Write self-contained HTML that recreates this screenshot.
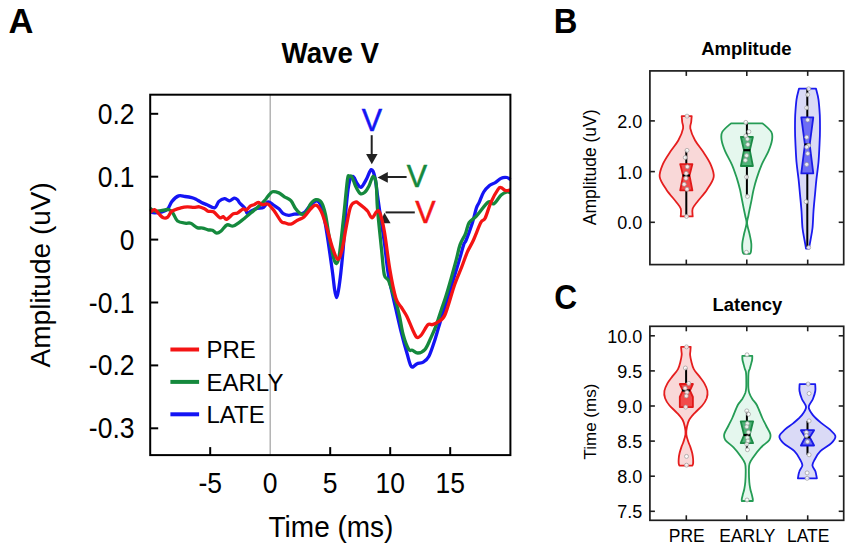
<!DOCTYPE html>
<html><head><meta charset="utf-8"><style>
html,body{margin:0;padding:0;background:#fff;}
svg{display:block;}
text{font-family:"Liberation Sans", sans-serif;}
</style></head><body>
<svg width="851" height="549" viewBox="0 0 851 549">
<rect width="851" height="549" fill="#fff"/>
<text x="8.6" y="33.1" font-size="34.5" text-anchor="start" font-weight="bold" fill="#000" transform="translate(8.6 0) scale(1 1) translate(-8.6 0)">A</text>
<text x="330.3" y="62.8" font-size="29.5" text-anchor="middle" font-weight="bold" fill="#000" transform="translate(330.3 0) scale(0.94 1) translate(-330.3 0)">Wave V</text>
<line x1="270.2" y1="94.7" x2="270.2" y2="455.1" stroke="#a8a8a8" stroke-width="1.3"/>
<line x1="170.4" y1="349.5" x2="199.1" y2="349.5" stroke="#f41414" stroke-width="4"/>
<text x="206.5" y="358.4" font-size="24.0" text-anchor="start" font-weight="normal" fill="#000" >PRE</text>
<line x1="170.4" y1="381.9" x2="199.1" y2="381.9" stroke="#15893d" stroke-width="4"/>
<text x="206.5" y="390.8" font-size="24.0" text-anchor="start" font-weight="normal" fill="#000" >EARLY</text>
<line x1="170.4" y1="414.3" x2="199.1" y2="414.3" stroke="#1414f4" stroke-width="4"/>
<text x="206.5" y="423.2" font-size="24.0" text-anchor="start" font-weight="normal" fill="#000" >LATE</text>
<line x1="371.7" y1="135.2" x2="371.7" y2="155" stroke="#222222" stroke-width="2"/>
<polygon points="366.1,154.1 377.6,154.1 371.8,164.3" fill="#222222"/>
<line x1="387" y1="177" x2="406.6" y2="177" stroke="#222222" stroke-width="2"/>
<polygon points="377.6,177.4 387.8,172.1 387.8,182.8" fill="#222222"/>
<line x1="385.6" y1="212.4" x2="414.8" y2="212.4" stroke="#222222" stroke-width="2"/>
<polygon points="384.4,212.8 379.9,223.3 390.6,223.3" fill="#222222"/>
<path d="M150.2,211.8 C150.9,212.0 152.6,212.8 154.6,212.8 C156.6,212.8 160.0,212.4 162.2,211.8 C164.4,211.2 166.1,210.7 167.7,209.0 C169.3,207.3 170.2,203.6 172.0,201.4 C173.8,199.2 176.4,196.7 178.6,195.9 C180.8,195.1 182.9,196.2 185.1,196.5 C187.3,196.8 189.9,197.2 191.7,197.6 C193.5,198.0 194.4,198.4 196.0,199.2 C197.6,200.0 199.7,201.6 201.5,202.5 C203.3,203.4 204.8,203.8 207.0,204.7 C209.2,205.6 212.6,208.4 214.6,207.9 C216.6,207.4 217.3,202.9 218.9,201.4 C220.5,199.9 222.6,198.8 224.4,198.7 C226.2,198.6 228.2,200.9 229.8,200.8 C231.4,200.7 232.9,198.3 234.2,198.1 C235.5,197.9 236.6,198.9 237.5,199.7 C238.4,200.5 238.4,201.5 239.7,203.0 C241.0,204.5 243.8,206.8 245.1,208.5 C246.4,210.2 246.2,213.0 247.3,213.4 C248.4,213.8 250.1,211.5 251.7,210.7 C253.3,209.9 255.1,209.1 257.1,208.5 C259.1,207.9 261.9,208.5 263.7,207.4 C265.5,206.3 266.5,202.3 268.1,201.9 C269.7,201.5 271.7,203.8 273.5,205.0 C275.3,206.2 277.3,207.4 278.9,208.8 C280.5,210.2 281.6,212.6 283.3,213.7 C285.0,214.8 287.0,215.2 288.8,215.3 C290.6,215.4 292.2,214.5 294.2,214.2 C296.2,213.9 299.0,214.1 300.8,213.7 C302.6,213.3 303.4,213.4 305.0,212.0 C306.6,210.6 308.7,206.9 310.5,205.1 C312.3,203.3 314.3,201.2 315.9,201.0 C317.5,200.8 318.6,201.1 320.0,203.8 C321.4,206.5 322.7,211.0 324.1,217.4 C325.5,223.8 326.9,233.2 328.2,242.0 C329.5,250.8 331.1,262.1 332.2,270.0 C333.3,277.9 333.9,284.9 334.6,289.5 C335.3,294.1 335.9,297.6 336.6,297.6 C337.3,297.6 337.9,293.6 338.6,289.5 C339.3,285.4 340.0,280.0 340.8,273.0 C341.6,266.0 342.4,258.1 343.3,247.5 C344.2,236.9 345.1,219.7 346.0,209.2 C346.9,198.7 347.7,190.1 348.8,184.6 C349.9,179.1 351.5,176.6 352.9,176.4 C354.3,176.2 355.6,181.4 357.0,183.2 C358.4,185.0 359.5,188.0 361.1,187.3 C362.7,186.6 364.8,182.1 366.5,179.1 C368.2,176.1 369.8,170.0 371.2,169.6 C372.6,169.2 373.6,172.1 374.7,176.4 C375.8,180.7 376.6,189.1 377.5,195.5 C378.4,201.9 379.1,206.8 380.2,214.6 C381.3,222.3 382.9,232.0 384.3,242.0 C385.7,252.0 386.5,263.6 388.4,274.8 C390.3,286.0 393.7,299.5 395.9,309.2 C398.1,318.9 399.6,325.6 401.4,332.9 C403.2,340.2 405.2,347.4 406.9,353.0 C408.6,358.6 409.7,364.8 411.4,366.6 C413.1,368.4 414.9,364.6 416.9,363.9 C418.9,363.1 421.3,363.3 423.3,362.1 C425.3,360.9 427.0,360.0 428.8,356.6 C430.6,353.2 432.4,347.5 434.2,342.0 C436.0,336.5 437.5,330.9 439.7,323.8 C441.9,316.7 444.8,307.3 447.3,299.3 C449.8,291.3 452.5,282.6 454.6,275.6 C456.7,268.6 458.6,262.6 460.1,257.4 C461.6,252.2 462.7,247.5 463.7,244.6 C464.7,241.7 464.8,243.4 466.2,240.0 C467.6,236.6 470.3,229.4 472.0,224.1 C473.7,218.8 475.2,211.8 476.4,208.1 C477.6,204.4 478.1,204.9 479.3,202.2 C480.5,199.5 482.0,194.8 483.7,192.0 C485.4,189.2 487.6,187.1 489.5,185.5 C491.4,183.9 493.4,183.8 495.3,182.6 C497.2,181.4 499.2,179.0 501.2,178.2 C503.1,177.3 505.4,177.2 507.0,177.5 C508.6,177.8 509.9,179.3 510.5,179.7" fill="none" stroke="#1414f4" stroke-width="3.3" stroke-linejoin="round" stroke-linecap="butt"/>
<path d="M150.2,208.5 C150.9,208.9 152.8,210.8 154.6,211.2 C156.4,211.6 158.7,211.0 161.1,210.7 C163.5,210.4 166.8,209.1 168.8,209.6 C170.8,210.1 171.7,211.5 173.1,213.4 C174.5,215.3 175.5,219.4 177.5,221.0 C179.5,222.6 182.9,222.8 185.1,223.2 C187.3,223.6 188.6,222.5 190.6,223.2 C192.6,223.9 195.1,226.8 197.1,227.6 C199.1,228.4 200.8,227.7 202.6,228.1 C204.4,228.5 206.4,229.4 208.0,229.8 C209.6,230.2 211.0,229.8 212.4,230.3 C213.8,230.9 215.2,233.0 216.7,233.1 C218.1,233.2 219.4,232.3 221.1,230.9 C222.8,229.5 225.1,225.7 227.1,224.9 C229.1,224.1 231.0,226.5 233.1,226.0 C235.2,225.5 237.7,223.5 239.7,222.1 C241.7,220.7 243.1,219.4 245.1,217.8 C247.1,216.2 249.5,214.1 251.7,212.3 C253.9,210.5 256.0,208.8 258.2,206.8 C260.4,204.8 263.2,202.1 264.8,200.3 C266.4,198.5 266.7,197.6 268.0,196.2 C269.3,194.8 270.6,192.4 272.4,191.8 C274.2,191.2 276.9,192.1 278.9,192.9 C280.9,193.7 282.4,195.5 284.4,196.8 C286.4,198.1 289.1,198.7 290.9,200.6 C292.7,202.5 293.8,206.1 295.3,208.2 C296.8,210.3 298.4,212.1 299.7,213.1 C301.0,214.1 301.8,214.7 303.0,214.3 C304.2,214.0 305.8,212.7 307.0,211.0 C308.2,209.3 309.0,205.9 310.5,204.0 C312.0,202.1 314.1,200.0 315.9,199.7 C317.7,199.4 319.8,199.9 321.4,202.4 C323.0,204.9 324.1,208.4 325.5,214.6 C326.9,220.8 328.2,232.0 329.6,239.3 C331.0,246.6 332.6,254.4 333.7,258.4 C334.8,262.4 335.6,263.8 336.5,263.4 C337.4,262.9 338.1,262.9 339.2,255.7 C340.3,248.5 341.9,232.8 343.3,220.2 C344.7,207.6 346.4,187.3 347.4,180.0 C348.4,172.7 348.7,177.0 349.5,176.5 C350.3,176.0 351.0,175.4 352.0,177.0 C353.0,178.6 354.2,183.3 355.5,186.0 C356.8,188.7 358.5,192.2 360.0,193.3 C361.5,194.4 363.0,193.7 364.5,192.5 C366.0,191.3 367.6,188.7 369.0,186.0 C370.4,183.3 371.9,176.7 373.1,176.4 C374.3,176.1 375.5,178.5 376.2,184.0 C376.9,189.5 376.6,198.2 377.5,209.2 C378.4,220.2 380.5,239.3 381.6,250.2 C382.7,261.1 383.2,269.8 384.3,274.8 C385.4,279.8 387.0,277.3 388.4,280.2 C389.8,283.1 391.2,288.4 392.5,292.0 C393.8,295.6 394.7,297.8 395.9,301.9 C397.1,306.0 398.4,311.0 399.6,316.5 C400.8,322.0 401.7,329.2 403.2,334.7 C404.7,340.2 407.2,346.7 408.7,349.3 C410.2,351.9 410.9,349.6 412.4,350.2 C413.9,350.8 415.7,353.1 417.8,353.0 C419.9,352.9 423.0,351.7 425.1,349.3 C427.2,346.9 428.8,342.3 430.6,338.4 C432.4,334.4 434.3,330.5 436.1,325.6 C437.9,320.7 439.9,313.9 441.5,309.2 C443.1,304.5 443.9,302.5 445.5,297.5 C447.1,292.5 449.1,285.6 450.9,279.2 C452.7,272.8 454.9,265.0 456.4,259.2 C457.9,253.4 458.6,248.9 460.1,244.6 C461.6,240.3 464.0,237.3 465.5,233.6 C467.0,229.9 467.3,225.5 469.1,222.6 C470.9,219.7 473.2,219.5 476.4,216.1 C479.6,212.7 485.2,204.3 488.1,202.2 C491.0,200.1 491.7,204.9 493.9,203.7 C496.1,202.5 499.0,196.9 501.2,195.0 C503.4,193.1 505.4,192.4 507.0,192.0 C508.6,191.6 509.9,192.7 510.5,192.8" fill="none" stroke="#15893d" stroke-width="3.3" stroke-linejoin="round" stroke-linecap="butt"/>
<path d="M150.2,212.3 C150.9,211.9 153.1,209.3 154.6,209.6 C156.1,209.9 157.4,212.5 158.9,213.9 C160.4,215.3 161.8,217.2 163.3,217.8 C164.8,218.4 166.2,218.3 167.7,217.2 C169.1,216.1 169.8,212.8 172.0,211.2 C174.2,209.6 178.2,208.6 180.8,207.9 C183.4,207.2 185.1,206.9 187.3,206.8 C189.5,206.7 191.9,207.4 193.9,207.4 C195.9,207.4 197.5,206.5 199.3,206.8 C201.1,207.1 203.4,208.3 204.8,209.0 C206.2,209.7 206.6,210.7 208.0,211.2 C209.4,211.7 211.5,210.7 213.5,211.8 C215.5,212.9 218.4,217.0 220.0,217.8 C221.6,218.6 222.2,216.4 223.3,216.7 C224.4,217.0 225.0,219.9 226.6,219.4 C228.2,218.9 231.3,215.0 233.1,213.9 C234.9,212.8 235.8,213.7 237.5,212.9 C239.2,212.1 241.6,209.5 243.0,209.0 C244.4,208.5 244.9,210.6 246.2,210.1 C247.5,209.6 249.3,206.7 250.6,205.8 C251.9,204.9 252.6,205.2 253.9,204.7 C255.2,204.1 256.8,202.5 258.2,202.5 C259.6,202.5 261.0,204.4 262.6,204.7 C264.2,205.0 266.1,203.0 268.1,204.1 C270.1,205.2 272.4,208.6 274.6,211.5 C276.8,214.4 279.3,219.4 281.1,221.3 C282.9,223.2 283.9,222.5 285.5,223.0 C287.1,223.5 288.9,224.6 290.9,224.1 C292.9,223.6 295.3,221.4 297.5,220.2 C299.7,219.0 301.8,218.8 304.0,217.0 C306.2,215.2 308.5,211.2 310.5,209.2 C312.5,207.2 314.1,204.6 315.9,205.1 C317.7,205.6 319.6,208.0 321.4,211.9 C323.2,215.8 325.1,222.4 326.9,228.3 C328.7,234.2 330.6,242.3 332.4,247.5 C334.2,252.7 336.2,258.9 337.8,259.4 C339.4,259.8 340.5,255.4 341.9,250.2 C343.3,245.0 344.6,235.5 346.0,228.3 C347.4,221.1 348.9,211.4 350.5,207.0 C352.1,202.6 354.3,202.6 355.7,202.0 C357.1,201.4 357.4,202.7 358.9,203.7 C360.3,204.7 362.9,206.8 364.4,208.1 C365.9,209.4 366.4,209.7 367.7,211.3 C369.0,212.9 370.6,217.8 372.0,217.9 C373.4,218.0 375.1,212.8 376.4,211.9 C377.7,211.0 378.4,209.2 379.7,212.4 C381.0,215.6 382.6,221.6 384.3,231.1 C386.0,240.6 387.9,258.1 389.8,269.3 C391.7,280.5 394.0,291.9 395.9,298.2 C397.8,304.5 399.6,304.3 401.4,307.4 C403.2,310.4 405.1,312.9 406.9,316.5 C408.7,320.1 410.7,325.7 412.4,329.2 C414.1,332.7 415.4,336.5 416.9,337.4 C418.4,338.3 419.7,336.8 421.5,334.7 C423.3,332.6 426.1,326.4 427.9,324.7 C429.7,323.0 430.7,325.1 432.4,324.7 C434.1,324.2 435.8,323.7 437.9,322.0 C440.0,320.3 442.2,320.9 445.0,314.7 C447.8,308.5 451.8,292.7 454.6,284.7 C457.4,276.7 459.8,272.0 461.9,266.5 C464.0,261.0 465.5,256.3 467.4,251.9 C469.3,247.5 471.3,244.9 473.5,240.0 C475.7,235.1 478.9,226.2 480.8,222.6 C482.7,219.0 483.4,221.6 485.1,218.2 C486.8,214.8 488.8,207.0 491.0,202.2 C493.2,197.3 496.5,191.5 498.2,189.1 C499.9,186.7 500.0,187.4 501.2,187.7 C502.4,187.9 503.9,190.2 505.5,190.6 C507.1,191.0 509.7,190.0 510.5,189.9" fill="none" stroke="#f41414" stroke-width="3.3" stroke-linejoin="round" stroke-linecap="butt"/>
<text x="372.0" y="131.3" font-size="30.5" text-anchor="middle" font-weight="normal" fill="#1414f4" stroke="#1414f4" stroke-width="0.5">V</text>
<text x="417.0" y="186.8" font-size="30.5" text-anchor="middle" font-weight="normal" fill="#15893d" stroke="#15893d" stroke-width="0.5">V</text>
<text x="425.5" y="223.2" font-size="30.5" text-anchor="middle" font-weight="normal" fill="#f41414" stroke="#f41414" stroke-width="0.5">V</text>
<rect x="150.2" y="94.7" width="360.2" height="360.4" fill="none" stroke="#000" stroke-width="2"/>
<line x1="150.2" y1="113.8" x2="158.2" y2="113.8" stroke="#000" stroke-width="2"/>
<text x="134.5" y="123.9" font-size="26.5" text-anchor="end" font-weight="normal" fill="#000" transform="translate(0 123.9) scale(1 1.08) translate(0 -123.9)">0.2</text>
<line x1="150.2" y1="176.7" x2="158.2" y2="176.7" stroke="#000" stroke-width="2"/>
<text x="134.5" y="186.8" font-size="26.5" text-anchor="end" font-weight="normal" fill="#000" transform="translate(0 186.8) scale(1 1.08) translate(0 -186.8)">0.1</text>
<line x1="150.2" y1="239.6" x2="158.2" y2="239.6" stroke="#000" stroke-width="2"/>
<text x="134.5" y="249.7" font-size="26.5" text-anchor="end" font-weight="normal" fill="#000" transform="translate(0 249.7) scale(1 1.08) translate(0 -249.7)">0</text>
<line x1="150.2" y1="302.5" x2="158.2" y2="302.5" stroke="#000" stroke-width="2"/>
<text x="134.5" y="312.6" font-size="26.5" text-anchor="end" font-weight="normal" fill="#000" transform="translate(0 312.6) scale(1 1.08) translate(0 -312.6)">-0.1</text>
<line x1="150.2" y1="365.4" x2="158.2" y2="365.4" stroke="#000" stroke-width="2"/>
<text x="134.5" y="375.5" font-size="26.5" text-anchor="end" font-weight="normal" fill="#000" transform="translate(0 375.5) scale(1 1.08) translate(0 -375.5)">-0.2</text>
<line x1="150.2" y1="428.3" x2="158.2" y2="428.3" stroke="#000" stroke-width="2"/>
<text x="134.5" y="438.4" font-size="26.5" text-anchor="end" font-weight="normal" fill="#000" transform="translate(0 438.4) scale(1 1.08) translate(0 -438.4)">-0.3</text>
<line x1="210.2" y1="455.1" x2="210.2" y2="447.1" stroke="#000" stroke-width="2"/>
<text x="210.2" y="493.0" font-size="26.5" text-anchor="middle" font-weight="normal" fill="#000" transform="translate(0 493) scale(1 1.08) translate(0 -493)">-5</text>
<text x="270.2" y="493.0" font-size="26.5" text-anchor="middle" font-weight="normal" fill="#000" transform="translate(0 493) scale(1 1.08) translate(0 -493)">0</text>
<line x1="330.2" y1="455.1" x2="330.2" y2="447.1" stroke="#000" stroke-width="2"/>
<text x="330.2" y="493.0" font-size="26.5" text-anchor="middle" font-weight="normal" fill="#000" transform="translate(0 493) scale(1 1.08) translate(0 -493)">5</text>
<line x1="390.2" y1="455.1" x2="390.2" y2="447.1" stroke="#000" stroke-width="2"/>
<text x="390.2" y="493.0" font-size="26.5" text-anchor="middle" font-weight="normal" fill="#000" transform="translate(0 493) scale(1 1.08) translate(0 -493)">10</text>
<line x1="450.2" y1="455.1" x2="450.2" y2="447.1" stroke="#000" stroke-width="2"/>
<text x="450.2" y="493.0" font-size="26.5" text-anchor="middle" font-weight="normal" fill="#000" transform="translate(0 493) scale(1 1.08) translate(0 -493)">15</text>
<text x="331.0" y="537.3" font-size="28.0" text-anchor="middle" font-weight="normal" fill="#000" transform="translate(0 537.3) scale(1 1.04) translate(0 -537.3)">Time (ms)</text>
<text x="50.3" y="274.8" font-size="28.0" text-anchor="middle" font-weight="normal" fill="#000" transform="rotate(-90 50.3 274.8)">Amplitude (uV)</text>
<text x="553.8" y="33.5" font-size="34.5" text-anchor="start" font-weight="bold" fill="#000" transform="translate(553.8 0) scale(0.95 1) translate(-553.8 0)">B</text>
<text x="746.4" y="55.0" font-size="19.0" text-anchor="middle" font-weight="bold" fill="#000" transform="translate(746.4 0) scale(0.975 1) translate(-746.4 0)">Amplitude</text>
<rect x="649.9" y="70.9" width="193.8" height="193.7" fill="none" stroke="#1e1e1e" stroke-width="1.7"/>
<line x1="686.3" y1="70.9" x2="686.3" y2="75.9" stroke="#1e1e1e" stroke-width="1.6"/>
<line x1="686.3" y1="264.6" x2="686.3" y2="259.6" stroke="#1e1e1e" stroke-width="1.6"/>
<line x1="746.8" y1="70.9" x2="746.8" y2="75.9" stroke="#1e1e1e" stroke-width="1.6"/>
<line x1="746.8" y1="264.6" x2="746.8" y2="259.6" stroke="#1e1e1e" stroke-width="1.6"/>
<line x1="807.7" y1="70.9" x2="807.7" y2="75.9" stroke="#1e1e1e" stroke-width="1.6"/>
<line x1="807.7" y1="264.6" x2="807.7" y2="259.6" stroke="#1e1e1e" stroke-width="1.6"/>
<line x1="649.9" y1="120.9" x2="654.9" y2="120.9" stroke="#1e1e1e" stroke-width="1.6"/>
<line x1="843.7" y1="120.9" x2="838.7" y2="120.9" stroke="#1e1e1e" stroke-width="1.6"/>
<line x1="649.9" y1="171.6" x2="654.9" y2="171.6" stroke="#1e1e1e" stroke-width="1.6"/>
<line x1="843.7" y1="171.6" x2="838.7" y2="171.6" stroke="#1e1e1e" stroke-width="1.6"/>
<line x1="649.9" y1="222.3" x2="654.9" y2="222.3" stroke="#1e1e1e" stroke-width="1.6"/>
<line x1="843.7" y1="222.3" x2="838.7" y2="222.3" stroke="#1e1e1e" stroke-width="1.6"/>
<text x="642.3" y="127.8" font-size="18.0" text-anchor="end" font-weight="normal" fill="#000" >2.0</text>
<text x="642.3" y="178.5" font-size="18.0" text-anchor="end" font-weight="normal" fill="#000" >1.0</text>
<text x="642.3" y="229.2" font-size="18.0" text-anchor="end" font-weight="normal" fill="#000" >0.0</text>
<text x="595.6" y="167.3" font-size="17.5" text-anchor="middle" font-weight="normal" fill="#000" transform="rotate(-90 595.6 167.3)">Amplitude (uV)</text>
<path d="M681.7,116.1 C681.8,117.1 682.0,120.0 682.2,122.0 C682.4,124.0 683.7,125.4 683.1,128.4 C682.5,131.4 680.6,136.3 678.4,140.2 C676.2,144.1 672.7,148.1 670.1,152.0 C667.5,155.9 664.7,159.8 663.0,163.9 C661.3,168.1 659.1,172.6 659.7,176.9 C660.3,181.2 663.9,185.8 666.6,189.9 C669.3,194.0 673.6,198.5 676.0,201.7 C678.4,204.8 680.0,206.4 680.8,208.8 C681.6,211.2 680.7,215.1 680.7,216.4 L692.7,216.4 C692.7,215.1 691.8,211.2 692.6,208.8 C693.4,206.4 695.0,204.8 697.4,201.7 C699.8,198.5 704.1,194.0 706.8,189.9 C709.5,185.8 713.1,181.2 713.7,176.9 C714.3,172.6 712.1,168.1 710.4,163.9 C708.7,159.8 705.9,155.9 703.3,152.0 C700.7,148.1 697.2,144.1 695.0,140.2 C692.8,136.3 690.9,131.4 690.3,128.4 C689.7,125.4 691.0,124.0 691.2,122.0 C691.4,120.0 691.6,117.1 691.7,116.1 Z" fill="#f9d8d8" stroke="#e51e1e" stroke-width="1.8" stroke-linejoin="round"/>
<line x1="686.3" y1="150.4" x2="686.3" y2="216.2" stroke="#000" stroke-width="2"/>
<polygon points="680.2,164.1 692.4,164.1 689.5,175.5 692.4,190.3 680.2,190.3 683.1,175.5" fill="#f24a4a" stroke="#e01818" stroke-width="1.8" stroke-linejoin="round"/>
<line x1="682.6" y1="175.5" x2="690.0" y2="175.5" stroke="#000" stroke-width="2.2"/>
<circle cx="687.0" cy="116.1" r="2" fill="#fff" fill-opacity="0.85" stroke="#9a9a9a" stroke-width="0.7"/>
<circle cx="687.0" cy="150.4" r="2" fill="#fff" fill-opacity="0.85" stroke="#9a9a9a" stroke-width="0.7"/>
<circle cx="685.3" cy="157.5" r="2" fill="#fff" fill-opacity="0.85" stroke="#9a9a9a" stroke-width="0.7"/>
<circle cx="687.3" cy="166.8" r="2" fill="#fff" fill-opacity="0.85" stroke="#9a9a9a" stroke-width="0.7"/>
<circle cx="686.2" cy="173.4" r="2" fill="#fff" fill-opacity="0.85" stroke="#9a9a9a" stroke-width="0.7"/>
<circle cx="685.9" cy="178.3" r="2" fill="#fff" fill-opacity="0.85" stroke="#9a9a9a" stroke-width="0.7"/>
<circle cx="684.2" cy="184.3" r="2" fill="#fff" fill-opacity="0.85" stroke="#9a9a9a" stroke-width="0.7"/>
<circle cx="687.0" cy="189.2" r="2" fill="#fff" fill-opacity="0.85" stroke="#9a9a9a" stroke-width="0.7"/>
<circle cx="686.5" cy="216.4" r="2" fill="#fff" fill-opacity="0.85" stroke="#9a9a9a" stroke-width="0.7"/>
<path d="M731.1,123.3 C729.6,124.7 723.9,129.1 722.3,131.9 C720.7,134.7 721.1,136.9 721.6,140.1 C722.1,143.3 723.4,147.0 725.1,151.1 C726.8,155.2 730.0,160.2 732.0,164.8 C734.0,169.4 735.5,174.2 736.9,178.4 C738.2,182.6 739.1,185.9 740.1,190.0 C741.0,194.1 741.7,198.6 742.6,202.8 C743.4,207.1 744.5,212.1 745.2,215.5 C745.8,218.9 746.7,220.0 746.5,223.2 C746.3,226.4 744.6,231.3 743.9,234.7 C743.2,238.1 742.5,240.8 742.3,243.6 C742.1,246.4 742.3,249.6 742.6,251.3 C742.8,253.0 743.6,253.5 743.8,253.9 L749.8,253.9 C750.0,253.5 750.8,253.0 751.0,251.3 C751.2,249.6 751.5,246.4 751.3,243.6 C751.1,240.8 750.4,238.1 749.7,234.7 C749.0,231.3 747.3,226.4 747.1,223.2 C746.9,220.0 747.8,218.9 748.4,215.5 C749.0,212.1 750.1,207.1 751.0,202.8 C751.9,198.6 752.5,194.1 753.5,190.0 C754.5,185.9 755.3,182.6 756.7,178.4 C758.0,174.2 759.6,169.4 761.6,164.8 C763.6,160.2 766.8,155.2 768.5,151.1 C770.2,147.0 771.5,143.3 772.0,140.1 C772.5,136.9 772.9,134.7 771.3,131.9 C769.7,129.1 764.0,124.7 762.5,123.3 Z" fill="#e5f7ee" stroke="#259c55" stroke-width="1.8" stroke-linejoin="round"/>
<line x1="746.9" y1="122.4" x2="746.9" y2="196.4" stroke="#000" stroke-width="2"/>
<polygon points="740.9,137.0 752.9,137.0 749.8,150.2 752.9,166.0 740.9,166.0 744.0,150.2" fill="#4fb478" stroke="#1b8a45" stroke-width="1.8" stroke-linejoin="round"/>
<line x1="743.5" y1="150.2" x2="750.3" y2="150.2" stroke="#000" stroke-width="2.2"/>
<circle cx="745.8" cy="122.4" r="2" fill="#fff" fill-opacity="0.85" stroke="#9a9a9a" stroke-width="0.7"/>
<circle cx="748.9" cy="131.7" r="2" fill="#fff" fill-opacity="0.85" stroke="#9a9a9a" stroke-width="0.7"/>
<circle cx="745.8" cy="135.9" r="2" fill="#fff" fill-opacity="0.85" stroke="#9a9a9a" stroke-width="0.7"/>
<circle cx="747.4" cy="139.0" r="2" fill="#fff" fill-opacity="0.85" stroke="#9a9a9a" stroke-width="0.7"/>
<circle cx="747.8" cy="144.5" r="2" fill="#fff" fill-opacity="0.85" stroke="#9a9a9a" stroke-width="0.7"/>
<circle cx="746.6" cy="155.6" r="2" fill="#fff" fill-opacity="0.85" stroke="#9a9a9a" stroke-width="0.7"/>
<circle cx="745.4" cy="160.3" r="2" fill="#fff" fill-opacity="0.85" stroke="#9a9a9a" stroke-width="0.7"/>
<circle cx="746.6" cy="177.0" r="2" fill="#fff" fill-opacity="0.85" stroke="#9a9a9a" stroke-width="0.7"/>
<circle cx="747.4" cy="196.4" r="2" fill="#fff" fill-opacity="0.85" stroke="#9a9a9a" stroke-width="0.7"/>
<circle cx="746.4" cy="252.3" r="2" fill="#fff" fill-opacity="0.85" stroke="#9a9a9a" stroke-width="0.7"/>
<path d="M799.0,88.7 C798.6,90.5 797.1,95.2 796.5,99.6 C795.9,104.0 795.5,110.1 795.2,115.0 C795.0,119.9 795.0,124.0 795.0,129.0 C795.0,134.0 795.2,139.5 795.5,145.0 C795.8,150.5 796.0,156.4 796.5,162.0 C797.0,167.6 797.9,173.3 798.5,178.7 C799.1,184.1 799.5,189.1 800.0,194.5 C800.5,199.9 801.1,205.4 801.5,211.0 C801.9,216.6 802.0,223.2 802.5,228.0 C803.0,232.8 803.9,236.6 804.5,240.0 C805.1,243.4 805.8,247.1 806.0,248.5 L809.0,248.5 C809.2,247.1 809.9,243.4 810.5,240.0 C811.1,236.6 812.0,232.8 812.5,228.0 C813.0,223.2 813.1,216.6 813.5,211.0 C813.9,205.4 814.5,199.9 815.0,194.5 C815.5,189.1 815.9,184.1 816.5,178.7 C817.1,173.3 818.0,167.6 818.5,162.0 C819.0,156.4 819.2,150.5 819.5,145.0 C819.8,139.5 820.0,134.0 820.0,129.0 C820.0,124.0 820.0,119.9 819.8,115.0 C819.5,110.1 819.1,104.0 818.5,99.6 C817.9,95.2 816.4,90.5 816.0,88.7 Z" fill="#dadaf6" stroke="#1a1af0" stroke-width="1.8" stroke-linejoin="round"/>
<line x1="807.3" y1="88.8" x2="807.3" y2="247.0" stroke="#000" stroke-width="2"/>
<polygon points="801.3,117.4 813.3,117.4 809.7,144.5 813.3,173.4 801.3,173.4 804.9,144.5" fill="#6e6ef4" stroke="#1a1ae6" stroke-width="1.8" stroke-linejoin="round"/>
<line x1="804.4" y1="144.5" x2="810.2" y2="144.5" stroke="#000" stroke-width="2.2"/>
<circle cx="808.7" cy="88.8" r="2" fill="#fff" fill-opacity="0.85" stroke="#9a9a9a" stroke-width="0.7"/>
<circle cx="807.7" cy="94.7" r="2" fill="#fff" fill-opacity="0.85" stroke="#9a9a9a" stroke-width="0.7"/>
<circle cx="806.7" cy="107.8" r="2" fill="#fff" fill-opacity="0.85" stroke="#9a9a9a" stroke-width="0.7"/>
<circle cx="807.7" cy="119.9" r="2" fill="#fff" fill-opacity="0.85" stroke="#9a9a9a" stroke-width="0.7"/>
<circle cx="806.7" cy="137.2" r="2" fill="#fff" fill-opacity="0.85" stroke="#9a9a9a" stroke-width="0.7"/>
<circle cx="808.7" cy="145.4" r="2" fill="#fff" fill-opacity="0.85" stroke="#9a9a9a" stroke-width="0.7"/>
<circle cx="806.7" cy="147.1" r="2" fill="#fff" fill-opacity="0.85" stroke="#9a9a9a" stroke-width="0.7"/>
<circle cx="807.7" cy="153.6" r="2" fill="#fff" fill-opacity="0.85" stroke="#9a9a9a" stroke-width="0.7"/>
<circle cx="806.7" cy="164.4" r="2" fill="#fff" fill-opacity="0.85" stroke="#9a9a9a" stroke-width="0.7"/>
<circle cx="806.1" cy="201.7" r="2" fill="#fff" fill-opacity="0.85" stroke="#9a9a9a" stroke-width="0.7"/>
<circle cx="808.7" cy="247.5" r="2" fill="#fff" fill-opacity="0.85" stroke="#9a9a9a" stroke-width="0.7"/>
<text x="554.2" y="309.3" font-size="34.5" text-anchor="start" font-weight="bold" fill="#000" transform="translate(554.2 0) scale(0.92 1) translate(-554.2 0)">C</text>
<text x="747.4" y="311.0" font-size="19.0" text-anchor="middle" font-weight="bold" fill="#000" transform="translate(747.4 0) scale(0.97 1) translate(-747.4 0)">Latency</text>
<rect x="649.9" y="326.3" width="193.8" height="194.0" fill="none" stroke="#1e1e1e" stroke-width="1.7"/>
<line x1="686.3" y1="326.3" x2="686.3" y2="331.3" stroke="#1e1e1e" stroke-width="1.6"/>
<line x1="686.3" y1="520.3" x2="686.3" y2="515.3" stroke="#1e1e1e" stroke-width="1.6"/>
<line x1="746.8" y1="326.3" x2="746.8" y2="331.3" stroke="#1e1e1e" stroke-width="1.6"/>
<line x1="746.8" y1="520.3" x2="746.8" y2="515.3" stroke="#1e1e1e" stroke-width="1.6"/>
<line x1="807.7" y1="326.3" x2="807.7" y2="331.3" stroke="#1e1e1e" stroke-width="1.6"/>
<line x1="807.7" y1="520.3" x2="807.7" y2="515.3" stroke="#1e1e1e" stroke-width="1.6"/>
<line x1="649.9" y1="335.8" x2="654.9" y2="335.8" stroke="#1e1e1e" stroke-width="1.6"/>
<line x1="843.7" y1="335.8" x2="838.7" y2="335.8" stroke="#1e1e1e" stroke-width="1.6"/>
<line x1="649.9" y1="370.9" x2="654.9" y2="370.9" stroke="#1e1e1e" stroke-width="1.6"/>
<line x1="843.7" y1="370.9" x2="838.7" y2="370.9" stroke="#1e1e1e" stroke-width="1.6"/>
<line x1="649.9" y1="406.0" x2="654.9" y2="406.0" stroke="#1e1e1e" stroke-width="1.6"/>
<line x1="843.7" y1="406.0" x2="838.7" y2="406.0" stroke="#1e1e1e" stroke-width="1.6"/>
<line x1="649.9" y1="441.1" x2="654.9" y2="441.1" stroke="#1e1e1e" stroke-width="1.6"/>
<line x1="843.7" y1="441.1" x2="838.7" y2="441.1" stroke="#1e1e1e" stroke-width="1.6"/>
<line x1="649.9" y1="476.2" x2="654.9" y2="476.2" stroke="#1e1e1e" stroke-width="1.6"/>
<line x1="843.7" y1="476.2" x2="838.7" y2="476.2" stroke="#1e1e1e" stroke-width="1.6"/>
<line x1="649.9" y1="511.3" x2="654.9" y2="511.3" stroke="#1e1e1e" stroke-width="1.6"/>
<line x1="843.7" y1="511.3" x2="838.7" y2="511.3" stroke="#1e1e1e" stroke-width="1.6"/>
<text x="642.3" y="342.7" font-size="18.0" text-anchor="end" font-weight="normal" fill="#000" >10.0</text>
<text x="642.3" y="377.8" font-size="18.0" text-anchor="end" font-weight="normal" fill="#000" >9.5</text>
<text x="642.3" y="412.9" font-size="18.0" text-anchor="end" font-weight="normal" fill="#000" >9.0</text>
<text x="642.3" y="448.0" font-size="18.0" text-anchor="end" font-weight="normal" fill="#000" >8.5</text>
<text x="642.3" y="483.1" font-size="18.0" text-anchor="end" font-weight="normal" fill="#000" >8.0</text>
<text x="642.3" y="518.2" font-size="18.0" text-anchor="end" font-weight="normal" fill="#000" >7.5</text>
<text x="596.3" y="421.6" font-size="17.0" text-anchor="middle" font-weight="normal" fill="#000" transform="rotate(-90 596.3 421.6)">Time (ms)</text>
<text x="686.8" y="542.0" font-size="17.5" text-anchor="middle" font-weight="normal" fill="#000" >PRE</text>
<text x="747.3" y="542.0" font-size="17.5" text-anchor="middle" font-weight="normal" fill="#000" >EARLY</text>
<text x="808.2" y="542.0" font-size="17.5" text-anchor="middle" font-weight="normal" fill="#000" >LATE</text>
<path d="M681.1,346.9 C681.1,347.6 681.3,349.6 681.4,351.0 C681.5,352.4 681.9,353.2 681.7,355.0 C681.5,356.8 681.0,359.4 680.4,361.8 C679.8,364.2 679.3,366.7 678.0,369.1 C676.7,371.5 674.2,374.0 672.4,376.4 C670.6,378.8 668.6,381.2 667.3,383.6 C666.0,386.0 664.8,388.5 664.4,390.9 C664.0,393.3 664.2,395.8 665.1,398.2 C666.0,400.6 667.5,403.1 669.5,405.5 C671.5,407.9 674.7,410.4 676.9,412.8 C679.1,415.2 681.4,417.6 682.7,420.0 C684.0,422.4 684.4,424.6 684.9,427.0 C685.4,429.4 685.8,431.9 685.5,434.4 C685.2,436.9 684.1,439.9 683.4,442.0 C682.7,444.1 682.0,445.3 681.4,447.1 C680.8,448.9 680.1,451.0 679.6,453.0 C679.1,455.0 678.8,457.2 678.7,459.0 C678.5,460.8 678.6,462.4 678.7,463.5 C678.8,464.6 679.3,465.2 679.4,465.6 L692.4,465.6 C692.5,465.2 693.0,464.6 693.1,463.5 C693.2,462.4 693.2,460.8 693.1,459.0 C693.0,457.2 692.6,455.0 692.2,453.0 C691.7,451.0 691.0,448.9 690.4,447.1 C689.8,445.3 689.1,444.1 688.4,442.0 C687.7,439.9 686.5,436.9 686.3,434.4 C686.0,431.9 686.4,429.4 686.9,427.0 C687.4,424.6 687.8,422.4 689.1,420.0 C690.4,417.6 692.7,415.2 694.9,412.8 C697.1,410.4 700.3,407.9 702.3,405.5 C704.3,403.1 705.8,400.6 706.7,398.2 C707.5,395.8 707.8,393.3 707.4,390.9 C707.0,388.5 705.8,386.0 704.5,383.6 C703.2,381.2 701.2,378.8 699.4,376.4 C697.6,374.0 695.1,371.5 693.8,369.1 C692.5,366.7 692.0,364.2 691.4,361.8 C690.8,359.4 690.3,356.8 690.1,355.0 C689.9,353.2 690.3,352.4 690.4,351.0 C690.5,349.6 690.6,347.6 690.7,346.9 Z" fill="#f9d8d8" stroke="#e51e1e" stroke-width="1.8" stroke-linejoin="round"/>
<line x1="686.1" y1="368.0" x2="686.1" y2="407.1" stroke="#000" stroke-width="2"/>
<polygon points="679.8,384.0 692.9,384.0 689.9,390.5 692.9,397.0 692.9,407.1 679.8,407.1 679.8,397.0 682.8,390.5" fill="#f24a4a" stroke="#e01818" stroke-width="1.8" stroke-linejoin="round"/>
<line x1="682.0" y1="390.5" x2="690.2" y2="390.5" stroke="#000" stroke-width="2.2"/>
<circle cx="685.4" cy="368.0" r="2" fill="#fff" fill-opacity="0.85" stroke="#9a9a9a" stroke-width="0.7"/>
<circle cx="688.7" cy="383.4" r="2" fill="#fff" fill-opacity="0.85" stroke="#9a9a9a" stroke-width="0.7"/>
<circle cx="685.1" cy="388.2" r="2" fill="#fff" fill-opacity="0.85" stroke="#9a9a9a" stroke-width="0.7"/>
<circle cx="686.9" cy="392.3" r="2" fill="#fff" fill-opacity="0.85" stroke="#9a9a9a" stroke-width="0.7"/>
<circle cx="686.3" cy="395.9" r="2" fill="#fff" fill-opacity="0.85" stroke="#9a9a9a" stroke-width="0.7"/>
<circle cx="685.7" cy="407.1" r="2" fill="#fff" fill-opacity="0.85" stroke="#9a9a9a" stroke-width="0.7"/>
<circle cx="686.5" cy="346.9" r="2" fill="#fff" fill-opacity="0.85" stroke="#9a9a9a" stroke-width="0.7"/>
<circle cx="686.5" cy="456.4" r="2" fill="#fff" fill-opacity="0.85" stroke="#9a9a9a" stroke-width="0.7"/>
<circle cx="686.5" cy="465.2" r="2" fill="#fff" fill-opacity="0.85" stroke="#9a9a9a" stroke-width="0.7"/>
<path d="M742.3,355.9 C742.3,356.6 742.3,358.8 742.5,360.0 C742.7,361.2 742.9,361.8 743.3,363.2 C743.7,364.6 744.3,367.2 744.8,368.7 C745.2,370.2 745.8,370.4 746.0,372.3 C746.2,374.2 746.3,377.4 746.3,380.0 C746.3,382.6 746.4,385.8 746.2,388.0 C746.0,390.2 745.9,391.2 745.3,393.0 C744.6,394.8 743.5,397.0 742.3,399.0 C741.0,401.0 739.5,401.8 737.8,405.0 C736.1,408.2 733.9,414.5 732.3,418.0 C730.7,421.5 729.6,423.3 728.3,426.0 C727.0,428.7 724.8,431.7 724.3,434.0 C723.8,436.3 723.8,437.8 725.3,440.0 C726.8,442.2 730.9,444.6 733.5,447.3 C736.1,450.0 738.9,453.7 740.8,456.4 C742.7,459.1 744.3,461.1 745.1,463.7 C745.9,466.3 745.7,468.9 745.7,472.0 C745.7,475.1 745.5,479.2 745.3,482.0 C745.1,484.8 744.7,486.8 744.3,489.0 C743.9,491.2 743.1,493.3 742.7,495.0 C742.3,496.7 741.9,498.0 741.8,499.0 C741.6,500.0 741.8,500.7 741.8,501.0 L752.8,501.0 C752.8,500.7 752.9,500.0 752.8,499.0 C752.6,498.0 752.3,496.7 751.9,495.0 C751.5,493.3 750.7,491.2 750.3,489.0 C749.9,486.8 749.5,484.8 749.3,482.0 C749.1,479.2 748.9,475.1 748.9,472.0 C748.9,468.9 748.7,466.3 749.5,463.7 C750.3,461.1 751.9,459.1 753.8,456.4 C755.7,453.7 758.5,450.0 761.1,447.3 C763.7,444.6 767.8,442.2 769.3,440.0 C770.8,437.8 770.8,436.3 770.3,434.0 C769.8,431.7 767.6,428.7 766.3,426.0 C765.0,423.3 763.9,421.5 762.3,418.0 C760.7,414.5 758.5,408.2 756.8,405.0 C755.1,401.8 753.5,401.0 752.3,399.0 C751.0,397.0 749.9,394.8 749.3,393.0 C748.6,391.2 748.6,390.2 748.4,388.0 C748.2,385.8 748.3,382.6 748.3,380.0 C748.3,377.4 748.3,374.2 748.6,372.3 C748.8,370.4 749.3,370.2 749.8,368.7 C750.2,367.2 750.9,364.6 751.3,363.2 C751.7,361.8 751.9,361.2 752.1,360.0 C752.3,358.8 752.3,356.6 752.3,355.9 Z" fill="#e5f7ee" stroke="#259c55" stroke-width="1.8" stroke-linejoin="round"/>
<line x1="746.9" y1="411.0" x2="746.9" y2="449.1" stroke="#000" stroke-width="2"/>
<polygon points="740.7,421.3 753.1,421.3 749.7,435.0 753.1,443.1 740.7,443.1 744.1,435.0" fill="#4fb478" stroke="#1b8a45" stroke-width="1.8" stroke-linejoin="round"/>
<line x1="743.6" y1="435.0" x2="750.2" y2="435.0" stroke="#000" stroke-width="2.2"/>
<circle cx="746.8" cy="410.9" r="2" fill="#fff" fill-opacity="0.85" stroke="#9a9a9a" stroke-width="0.7"/>
<circle cx="748.5" cy="414.2" r="2" fill="#fff" fill-opacity="0.85" stroke="#9a9a9a" stroke-width="0.7"/>
<circle cx="747.4" cy="423.5" r="2" fill="#fff" fill-opacity="0.85" stroke="#9a9a9a" stroke-width="0.7"/>
<circle cx="746.8" cy="426.8" r="2" fill="#fff" fill-opacity="0.85" stroke="#9a9a9a" stroke-width="0.7"/>
<circle cx="748.5" cy="432.2" r="2" fill="#fff" fill-opacity="0.85" stroke="#9a9a9a" stroke-width="0.7"/>
<circle cx="747.4" cy="437.7" r="2" fill="#fff" fill-opacity="0.85" stroke="#9a9a9a" stroke-width="0.7"/>
<circle cx="747.9" cy="441.0" r="2" fill="#fff" fill-opacity="0.85" stroke="#9a9a9a" stroke-width="0.7"/>
<circle cx="746.8" cy="444.2" r="2" fill="#fff" fill-opacity="0.85" stroke="#9a9a9a" stroke-width="0.7"/>
<circle cx="747.4" cy="449.7" r="2" fill="#fff" fill-opacity="0.85" stroke="#9a9a9a" stroke-width="0.7"/>
<circle cx="747.0" cy="354.8" r="2" fill="#fff" fill-opacity="0.85" stroke="#9a9a9a" stroke-width="0.7"/>
<circle cx="747.0" cy="500.0" r="2" fill="#fff" fill-opacity="0.85" stroke="#9a9a9a" stroke-width="0.7"/>
<path d="M799.6,384.2 C799.6,385.3 799.1,388.5 799.5,391.0 C799.9,393.5 800.8,396.3 801.9,399.0 C803.0,401.7 806.1,404.3 806.1,407.0 C806.1,409.7 804.0,412.4 801.9,415.1 C799.8,417.8 796.1,420.8 793.4,423.1 C790.6,425.5 787.7,427.0 785.4,429.2 C783.1,431.4 779.7,433.9 779.4,436.2 C779.1,438.5 780.9,440.7 783.4,443.2 C785.9,445.7 791.6,448.5 794.4,451.2 C797.1,453.9 798.6,456.8 799.9,459.2 C801.2,461.6 802.5,463.3 802.4,465.3 C802.3,467.3 800.1,469.1 799.4,471.3 C798.6,473.5 798.1,477.1 797.9,478.3 L816.9,478.3 C816.6,477.1 816.1,473.5 815.4,471.3 C814.6,469.1 812.5,467.3 812.4,465.3 C812.3,463.3 813.6,461.6 814.9,459.2 C816.2,456.8 817.6,453.9 820.4,451.2 C823.1,448.5 828.9,445.7 831.4,443.2 C833.9,440.7 835.7,438.5 835.4,436.2 C835.1,433.9 831.7,431.4 829.4,429.2 C827.1,427.0 824.1,425.5 821.4,423.1 C818.6,420.8 815.0,417.8 812.9,415.1 C810.8,412.4 808.7,409.7 808.7,407.0 C808.7,404.3 811.8,401.7 812.9,399.0 C814.0,396.3 814.9,393.5 815.3,391.0 C815.7,388.5 815.2,385.3 815.2,384.2 Z" fill="#dadaf6" stroke="#1a1af0" stroke-width="1.8" stroke-linejoin="round"/>
<line x1="807.5" y1="420.9" x2="807.5" y2="454.8" stroke="#000" stroke-width="2"/>
<polygon points="800.9,430.2 814.1,430.2 809.7,437.3 814.1,445.5 800.9,445.5 805.3,437.3" fill="#6e6ef4" stroke="#1a1ae6" stroke-width="1.8" stroke-linejoin="round"/>
<line x1="804.8" y1="437.3" x2="810.2" y2="437.3" stroke="#000" stroke-width="2.2"/>
<circle cx="809.1" cy="420.9" r="2" fill="#fff" fill-opacity="0.85" stroke="#9a9a9a" stroke-width="0.7"/>
<circle cx="806.4" cy="432.4" r="2" fill="#fff" fill-opacity="0.85" stroke="#9a9a9a" stroke-width="0.7"/>
<circle cx="806.4" cy="435.7" r="2" fill="#fff" fill-opacity="0.85" stroke="#9a9a9a" stroke-width="0.7"/>
<circle cx="807.5" cy="441.7" r="2" fill="#fff" fill-opacity="0.85" stroke="#9a9a9a" stroke-width="0.7"/>
<circle cx="809.1" cy="454.8" r="2" fill="#fff" fill-opacity="0.85" stroke="#9a9a9a" stroke-width="0.7"/>
<circle cx="808.1" cy="384.0" r="2" fill="#fff" fill-opacity="0.85" stroke="#9a9a9a" stroke-width="0.7"/>
<circle cx="809.1" cy="393.5" r="2" fill="#fff" fill-opacity="0.85" stroke="#9a9a9a" stroke-width="0.7"/>
<circle cx="807.1" cy="472.9" r="2" fill="#fff" fill-opacity="0.85" stroke="#9a9a9a" stroke-width="0.7"/>
<circle cx="807.1" cy="478.3" r="2" fill="#fff" fill-opacity="0.85" stroke="#9a9a9a" stroke-width="0.7"/>
</svg></body></html>
